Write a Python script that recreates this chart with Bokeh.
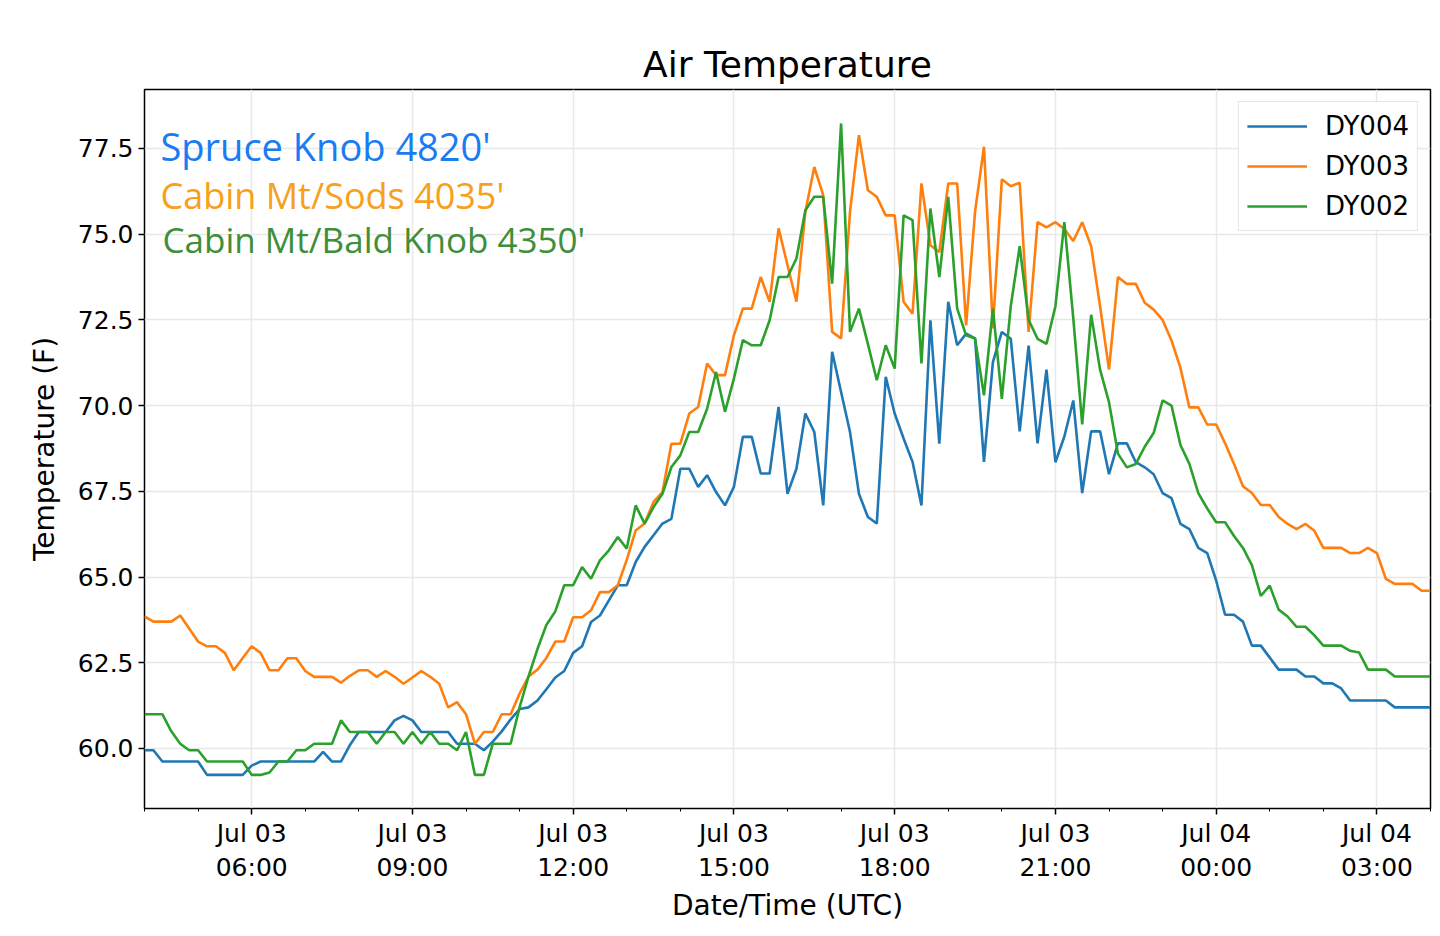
from datetime import datetime, timedelta
from bokeh.plotting import figure
from bokeh.models import Range1d, FixedTicker, DatetimeTickFormatter, Label, Legend, LegendItem, NumeralTickFormatter
from bokeh.embed import file_html
from bokeh.resources import INLINE

start = datetime(2019, 7, 3, 4, 0)
step_minutes = 10

dy004 = [59.95, 59.95, 59.62, 59.62, 59.62, 59.62, 59.62, 59.23, 59.23, 59.23,
         59.23, 59.23, 59.5, 59.62, 59.62, 59.62, 59.62, 59.62, 59.62, 59.62,
         59.9, 59.62, 59.62, 60.1, 60.48, 60.48, 60.48, 60.48, 60.82, 60.95,
         60.82, 60.48, 60.48, 60.48, 60.48, 60.14, 60.14, 60.14, 59.95, 60.2,
         60.5, 60.85, 61.15, 61.2, 61.4, 61.73, 62.07, 62.26, 62.79, 62.98,
         63.69, 63.88, 64.32, 64.76, 64.76, 65.44, 65.88, 66.22, 66.56, 66.70,
         68.16, 68.16, 67.63, 67.97, 67.48, 67.09, 67.63, 69.09, 69.09, 68.02,
         68.02, 69.96, 67.43, 68.16, 69.77, 69.23, 67.09, 71.57, 70.40, 69.23,
         67.43, 66.75, 66.56, 70.84, 69.77, 69.04, 68.36, 67.09, 72.49, 68.89,
         73.03, 71.76, 72.10, 71.96, 68.36, 71.27, 72.15, 71.95, 69.25, 71.75,
         68.9, 71.05, 68.35, 69.1, 70.15, 67.45, 69.25, 69.25, 68.0, 68.9,
         68.9, 68.35, 68.2, 68.0, 67.45, 67.3, 66.55, 66.4, 65.85, 65.7,
         64.9, 63.9, 63.9, 63.7, 63.0, 63.0, 62.65, 62.3, 62.3, 62.3,
         62.1, 62.1, 61.9, 61.9, 61.75, 61.4, 61.4, 61.4, 61.4, 61.4,
         61.2, 61.2, 61.2, 61.2, 61.2]

dy003 = [63.85, 63.7, 63.7, 63.7, 63.88, 63.5, 63.12, 62.98, 62.98, 62.79,
         62.28, 62.64, 62.98, 62.79, 62.28, 62.28, 62.63, 62.63, 62.26, 62.09,
         62.09, 62.09, 61.92, 62.12, 62.28, 62.28, 62.09, 62.26, 62.09, 61.89,
         62.07, 62.26, 62.09, 61.89, 61.2, 61.35, 61.0, 60.14, 60.48, 60.48,
         61.0, 61.0, 61.6, 62.1, 62.3, 62.64, 63.12, 63.12, 63.83, 63.83,
         64.03, 64.56, 64.56, 64.76, 65.5, 66.36, 66.56, 67.19, 67.48, 68.89,
         68.89, 69.77, 69.96, 71.23, 70.89, 70.89, 72.05, 72.83, 72.83, 73.75,
         73.03, 75.17, 74.1, 73.03, 75.65, 76.96, 76.14, 72.15, 71.96, 75.65,
         77.89, 76.28, 76.09, 75.55, 75.55, 73.03, 72.68, 76.48, 74.68, 74.48,
         76.48, 76.48, 72.34, 75.65, 77.55, 72.25, 76.6, 76.4, 76.5, 72.15,
         75.35, 75.2, 75.35, 75.15, 74.8, 75.35, 74.65, 72.9, 71.05, 73.75,
         73.55, 73.55, 73.0, 72.8, 72.5, 71.9, 71.1, 69.95, 69.95, 69.45,
         69.45, 68.9, 68.3, 67.65, 67.45, 67.1, 67.1, 66.75, 66.55, 66.4,
         66.55, 66.35, 65.85, 65.85, 65.85, 65.7, 65.7, 65.85, 65.7, 64.95,
         64.8, 64.8, 64.8, 64.6, 64.6]

dy002 = [61.0, 61.0, 61.0, 60.5, 60.14, 59.95, 59.95, 59.62, 59.62, 59.62,
         59.62, 59.62, 59.23, 59.23, 59.3, 59.62, 59.62, 59.95, 59.95, 60.14,
         60.14, 60.14, 60.82, 60.48, 60.48, 60.48, 60.14, 60.48, 60.48, 60.14,
         60.48, 60.14, 60.48, 60.14, 60.14, 59.95, 60.48, 59.23, 59.23, 60.14,
         60.14, 60.14, 61.2, 62.1, 62.9, 63.6, 64.0, 64.76, 64.76, 65.29,
         64.95, 65.49, 65.78, 66.17, 65.83, 67.09, 66.56, 67.04, 67.43, 68.21,
         68.55, 69.23, 69.23, 69.91, 70.98, 69.82, 70.79, 71.91, 71.76, 71.76,
         72.49, 73.75, 73.75, 74.29, 75.70, 76.09, 76.09, 73.56, 78.23, 72.15,
         72.83, 71.8, 70.74, 71.76, 71.08, 75.55, 75.41, 71.23, 75.75, 73.75,
         76.09, 72.83, 72.05, 71.96, 70.3, 72.83, 70.2, 72.9, 74.65, 72.5,
         71.95, 71.8, 72.9, 75.35, 72.55, 69.45, 72.65, 71.05, 70.1, 68.6,
         68.2, 68.3, 68.8, 69.2, 70.15, 70.0, 68.85, 68.3, 67.45, 67.0,
         66.6, 66.6, 66.2, 65.85, 65.35, 64.45, 64.75, 64.05, 63.85, 63.55,
         63.55, 63.3, 63.0, 63.0, 63.0, 62.85, 62.8, 62.3, 62.3, 62.3,
         62.1, 62.1, 62.1, 62.1, 62.1]

series_names = ["DY004", "DY003", "DY002"]
series_colors = ["#1f77b4", "#ff7f0e", "#2ca02c"]
station_labels = ["Spruce Knob 4820'", "Cabin Mt/Sods 4035'", "Cabin Mt/Bald Knob 4350'"]
station_colors = ["#1a7cf2", "#f7a01c", "#3e8e3a"]
y_ticks = [60.0, 62.5, 65.0, 67.5, 70.0, 72.5, 75.0, 77.5]

times = [start + timedelta(minutes=step_minutes * i) for i in range(len(dy004))]

def ms(d):
    return (d - datetime(1970, 1, 1)).total_seconds() * 1000.0

major = [ms(datetime(2019, 7, 3, 6) + timedelta(hours=3 * k)) for k in range(8)]
minor = [ms(datetime(2019, 7, 3, 4) + timedelta(hours=k)) for k in range(25)]

p = figure(width=1432, height=920, x_axis_type="datetime", output_backend="svg",
           toolbar_location=None, frame_width=1286, frame_height=719,
           min_border_left=144, min_border_top=89, min_border_right=2, min_border_bottom=112,
           x_range=Range1d(times[0], times[-1]), y_range=Range1d(58.25, 79.22))

p.title.text = "Air Temperature"
p.title.align = "center"
p.title.text_font = "DejaVu Sans"
p.title.text_font_size = "36px"
p.title.text_font_style = "normal"
p.title.text_color = "black"

renderers = []
for name, col, data in zip(series_names, series_colors, [dy004, dy003, dy002]):
    r = p.line(times, data, line_color=col, line_width=2.6)
    renderers.append((name, r))

legend = Legend(items=[LegendItem(label=n, renderers=[r]) for n, r in renderers],
                location="top_right", label_text_font="DejaVu Sans",
                label_text_font_size="26px", label_text_color="black",
                glyph_width=60, label_standoff=18,
                label_height=32, glyph_height=32,
                border_line_color="#cccccc", border_line_width=1.5,
                background_fill_alpha=0.9, spacing=8, padding=8, margin=12)
p.add_layout(legend)

ys = [637, 589, 546]
sizes = ["38px", "36px", "35px"]
xs = [16, 16, 18]
for txt, col, xx, yy, fs in zip(station_labels, station_colors, xs, ys, sizes):
    p.add_layout(Label(x=xx, y=yy, x_units="screen", y_units="screen", text=txt,
                       text_color=col, text_font="Open Sans", text_font_size=fs))

p.xaxis.ticker = FixedTicker(ticks=major, minor_ticks=minor)
fmt = "%b %d\n%H:%M"
p.xaxis.formatter = DatetimeTickFormatter(hours=fmt, days=fmt, minutes=fmt, hourmin=fmt,
                                          months=fmt, years=fmt)
p.yaxis.ticker = FixedTicker(ticks=y_ticks, minor_ticks=[])
p.yaxis.formatter = NumeralTickFormatter(format="0.0")
p.xaxis.axis_label = "Date/Time (UTC)"
p.yaxis.axis_label = "Temperature (F)"
for ax in (p.xaxis, p.yaxis):
    ax.axis_label_text_font = "DejaVu Sans"
    ax.axis_label_text_font_size = "28px"
    ax.axis_label_text_font_style = "normal"
    ax.axis_label_text_color = "black"
    ax.major_label_text_font = "DejaVu Sans"
    ax.major_label_text_font_size = "25px"
    ax.major_label_text_color = "black"
    ax.axis_line_color = None
    ax.major_tick_line_color = "black"
    ax.major_tick_line_width = 1.5
    ax.major_tick_out = 6
    ax.major_tick_in = 0
    ax.minor_tick_out = 3
    ax.minor_tick_in = 0
    ax.axis_label_standoff = 8
p.xaxis.major_label_standoff = 4
p.xaxis.axis_label_standoff = 4
p.yaxis.axis_label_standoff = 14

p.xgrid.grid_line_color = "#e8e8e8"
p.ygrid.grid_line_color = "#e8e8e8"
p.xgrid.grid_line_width = 1.5
p.ygrid.grid_line_width = 1.5
p.outline_line_color = "black"
p.outline_line_width = 1.5
p.background_fill_color = "white"
p.border_fill_color = "white"

open("out.html", "w").write(file_html(p, INLINE))
